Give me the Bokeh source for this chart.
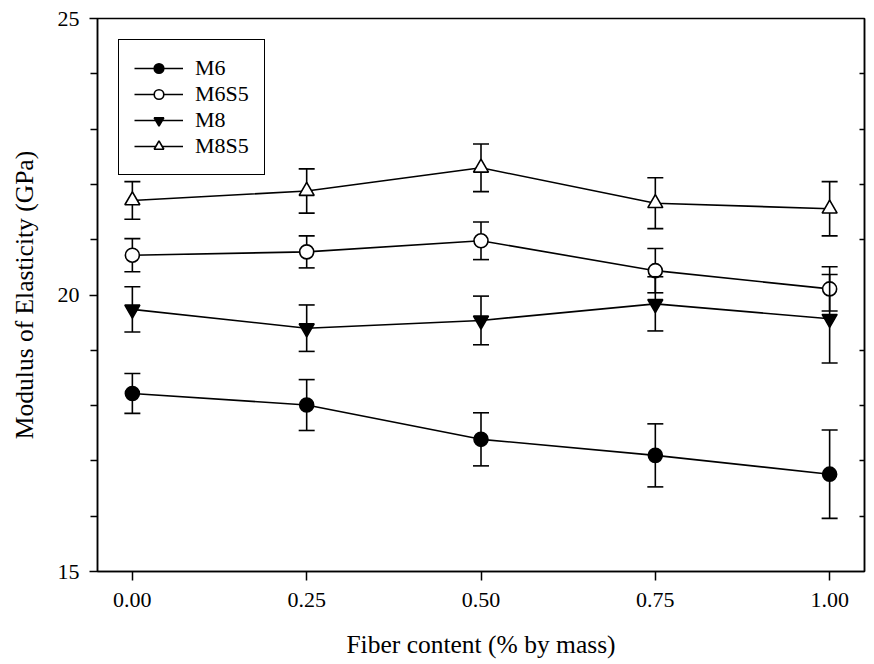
from bokeh.plotting import figure
from bokeh.models import (FixedTicker, LinearAxis, Legend, LegendItem, Range1d,
                          ColumnDataSource)
from bokeh.embed import file_html
from bokeh.resources import INLINE

# ---- data ----
fiber = [0.00, 0.25, 0.50, 0.75, 1.00]
x_tick_labels = ["0.00", "0.25", "0.50", "0.75", "1.00"]

m6 = [18.22, 18.01, 17.39, 17.10, 16.76]
m6_err = [0.36, 0.46, 0.48, 0.57, 0.80]
m6s5 = [20.72, 20.78, 20.98, 20.44, 20.11]
m6s5_err = [0.30, 0.29, 0.34, 0.40, 0.40]
m8 = [19.74, 19.40, 19.54, 19.84, 19.57]
m8_err = [0.41, 0.42, 0.44, 0.49, 0.80]
m8s5 = [21.71, 21.88, 22.30, 21.66, 21.56]
m8s5_err = [0.34, 0.40, 0.43, 0.46, 0.49]

y_major = [15, 20, 25]
y_minor = [16, 17, 18, 19, 21, 22, 23, 24]

series = [
    ("M6", m6, m6_err, "circle", "black", 14),
    ("M6S5", m6s5, m6s5_err, "circle", "white", 14),
    ("M8", m8, m8_err, "inverted_triangle", "black", 15),
    ("M8S5", m8s5, m8s5_err, "triangle", "white", 15),
]

FONT = "Liberation Serif"

p = figure(width=874, height=664, output_backend="svg", toolbar_location=None,
           x_range=Range1d(-0.05, 1.05), y_range=Range1d(15, 25),
           min_border_left=97, min_border_right=10, min_border_top=18,
           min_border_bottom=93)
p.xgrid.visible = False
p.ygrid.visible = False
p.outline_line_color = "black"
p.outline_line_width = 1.5
p.outline_line_alpha = 1.0
p.background_fill_color = "white"
p.border_fill_color = "white"

items = []
for name, vals, errs, marker, fill, size in series:
    lower = [v - e for v, e in zip(vals, errs)]
    upper = [v + e for v, e in zip(vals, errs)]
    src = ColumnDataSource(dict(x=fiber, y=vals, lo=lower, hi=upper))
    p.segment(x0="x", y0="lo", x1="x", y1="hi", source=src,
              line_color="black", line_width=1.6)
    p.scatter(x="x", y="lo", source=src, marker="dash", size=16,
              line_color="black", line_width=1.6)
    p.scatter(x="x", y="hi", source=src, marker="dash", size=16,
              line_color="black", line_width=1.6)
    lr = p.line(x="x", y="y", source=src, line_color="black", line_width=1.6)
    sr = p.scatter(x="x", y="y", source=src, marker=marker, size=size,
                   fill_color=fill, line_color="black", line_width=1.6)
    items.append(LegendItem(label=name, renderers=[lr, sr]))

legend = Legend(items=items, location="top_left", margin=21, padding=15,
                spacing=0, glyph_width=49, glyph_height=24, label_height=24,
                label_standoff=12, label_text_font=FONT,
                label_text_font_size="22px", label_text_color="black",
                border_line_color="black", border_line_width=1.5,
                border_line_alpha=1.0,
                background_fill_color="white", background_fill_alpha=1.0)
p.add_layout(legend, "center")

# x axis
xa = p.xaxis[0]
xa.ticker = FixedTicker(ticks=fiber)
xa.major_label_overrides = {v: t for v, t in zip(fiber, x_tick_labels)}
xa.major_tick_in = 0
xa.major_tick_out = 9
xa.major_label_standoff = 12
xa.axis_label = "Fiber content (% by mass)"
xa.axis_label_standoff = 20
xa.axis_label_text_font_style = "normal"

# y axis
ya = p.yaxis[0]
ya.ticker = FixedTicker(ticks=y_major, minor_ticks=y_minor)
ya.major_tick_in = 0
ya.major_tick_out = 8
ya.minor_tick_in = 0
ya.minor_tick_out = 7
ya.major_label_standoff = 10
ya.axis_label = "Modulus of Elasticity (GPa)"
ya.axis_label_standoff = 16
ya.axis_label_text_font_style = "normal"

for ax in (xa, ya):
    ax.axis_line_width = 1.5
    ax.axis_line_color = "black"
    ax.major_tick_line_width = 1.5
    ax.minor_tick_line_width = 1.5
    ax.major_tick_line_color = "black"
    ax.minor_tick_line_color = "black" if ax is ya else None
    ax.major_label_text_font = FONT
    ax.major_label_text_font_size = "22px"
    ax.major_label_text_color = "black"
    ax.axis_label_text_font = FONT
    ax.axis_label_text_font_size = "25.5px"
    ax.axis_label_text_color = "black"

# right axis: inward ticks only, no labels
ra = LinearAxis(ticker=FixedTicker(ticks=y_minor), major_tick_in=5,
                major_tick_out=0, major_label_standoff=0,
                major_label_overrides={t: "" for t in y_minor},
                minor_tick_line_color=None,
                axis_line_color="black", axis_line_width=1.5,
                major_tick_line_width=1.5, major_tick_line_color="black")
p.add_layout(ra, "right")

open("out.html", "w").write(file_html(p, INLINE))
